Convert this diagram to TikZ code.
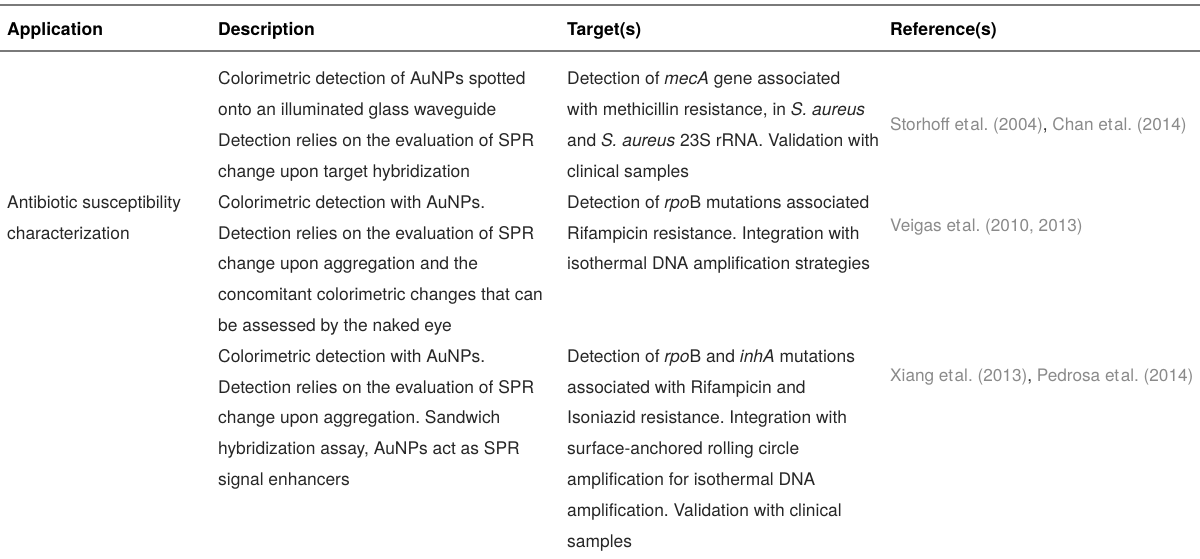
\documentclass[tikz,border=0pt]{standalone}
\usepackage{fontspec}
\setmainfont{TeX Gyre Heros}
\frenchspacing
\definecolor{bodytext}{HTML}{262626}
\definecolor{reftext}{HTML}{8A8A8A}
\definecolor{rulegray}{HTML}{7A7A7A}
\newcommand{\etal}{et\kern1.5pt al.}
\begin{document}
\begin{tikzpicture}[x=1pt,y=-1pt,
  cell/.style={anchor=base west,inner sep=0pt,align=left,text=bodytext,
    font=\fontsize{17.4}{30.8}\selectfont},
  head/.style={cell,font=\fontsize{17.6}{30.8}\selectfont\bfseries,text=black},
  refcell/.style={cell,text=reftext,font=\fontsize{17.2}{30.8}\selectfont}]
 \useasboundingbox (0,0) rectangle (1200,559);
 \draw[rulegray,line width=1.6pt](0,5)--(1200,5);
 \draw[rulegray,line width=1.6pt](0,51)--(1200,51);
 % header
 \node[head] (happ) at (7,36) {Application};
 \node[head] (hdesc) at (218,36) {Description};
 \node[head] (htarg) at (567,36) {Target(s)};
 \node[head] (href) at (890,36) {Reference(s)};
 % application (base = last line)
 \node[cell] (app) at (7,239) {Antibiotic susceptibility\\characterization};
 % row 1
 \node[cell] (desca) at (218,177.4) {Colorimetric detection of AuNPs spotted\\
   onto an illuminated glass waveguide\\
   Detection relies on the evaluation of SPR\\
   change upon target hybridization};
 \node[cell] (targa) at (567,177.4) {Detection of \textit{mecA} gene associated\\
   with methicillin resistance, in \textit{S. aureus}\\
   and \textit{S. aureus} 23S rRNA. Validation with\\
   clinical samples};
 \node[refcell] (refa) at (890,131) {Storhoff \etal{} (2004)\textcolor{bodytext}{,} Chan \etal{} (2014)};
 % row 2
 \node[cell] (descb) at (218,331.4) {Colorimetric detection with AuNPs.\\
   Detection relies on the evaluation of SPR\\
   change upon aggregation and the\\
   concomitant colorimetric changes that can\\
   be assessed by the naked eye};
 \node[cell] (targb) at (567,269.8) {Detection of \textit{rpo}B mutations associated\\
   Rifampicin resistance. Integration with\\
   isothermal DNA amplification strategies};
 \node[refcell] (refb) at (890,231.5) {Veigas \etal{} (2010, 2013)};
 % row 3
 \node[cell] (descc) at (218,485.4) {Colorimetric detection with AuNPs.\\
   Detection relies on the evaluation of SPR\\
   change upon aggregation. Sandwich\\
   hybridization assay, AuNPs act as SPR\\
   signal enhancers};
 \node[cell] (targc) at (567,547) {Detection of \textit{rpo}B and \textit{inhA} mutations\\
   associated with Rifampicin and\\
   Isoniazid resistance. Integration with\\
   surface-anchored rolling circle\\
   amplification for isothermal DNA\\
   amplification. Validation with clinical\\
   samples};
 \node[refcell] (refc) at (890,381.5) {Xiang \etal{} (2013)\textcolor{bodytext}{,} Pedrosa \etal{} (2014)};
\end{tikzpicture}
\end{document}
